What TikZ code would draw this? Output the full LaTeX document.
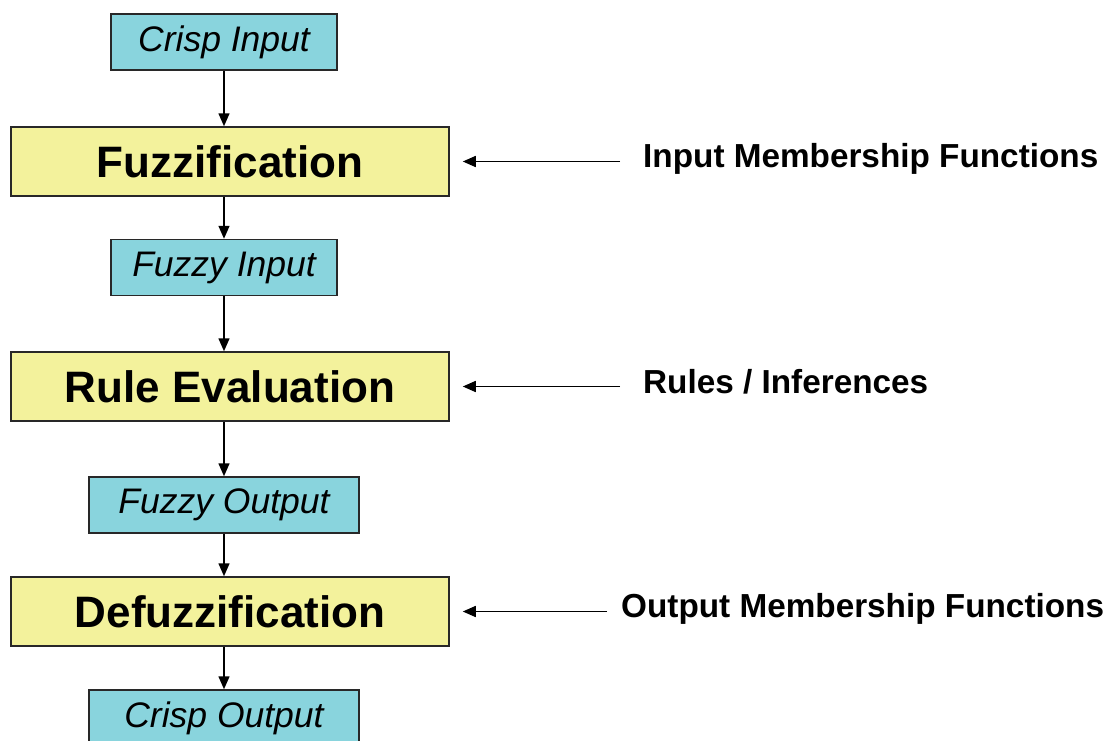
\documentclass[tikz,border=0pt]{standalone}
\usepackage{fontspec}
\setmainfont{Liberation Sans}
\usetikzlibrary{arrows.meta}
\definecolor{boxcyan}{RGB}{137,212,221}
\definecolor{boxyellow}{RGB}{243,242,156}
\definecolor{edgegray}{RGB}{40,40,40}
\tikzset{
  databox/.style={draw=edgegray, line width=1.5pt, fill=boxcyan, minimum height=56pt, inner sep=0pt,
    font=\fontsize{35.5}{40}\selectfont\itshape},
  stagebox/.style={draw=edgegray, line width=1.5pt, fill=boxyellow, minimum width=438pt, minimum height=69pt, inner sep=0pt,
    font=\fontsize{44}{50}\selectfont\bfseries},
  sidelabel/.style={anchor=base west, inner sep=0pt, font=\fontsize{33.3}{38}\selectfont\bfseries},
  flow/.style={line width=1.5pt, -{Triangle[length=13pt,width=11pt]}},
}
\begin{document}
\begin{tikzpicture}[x=1pt,y=-1pt]
\useasboundingbox (0,0) rectangle (1112,740);
\clip (0,0) rectangle (1112,740);
\node[databox, minimum width=226pt] (ci) at (224,42) {Crisp Input};
\node[stagebox] (fz) at (230,161.5) {Fuzzification};
\node[databox, minimum width=226pt] (fi) at (224,267.5) {Fuzzy Input};
\node[stagebox] (re) at (230,386.5) {Rule Evaluation};
\node[databox, minimum width=270pt] (fo) at (224,505) {Fuzzy Output};
\node[stagebox] (df) at (230,611.5) {Defuzzification};
\node[databox, minimum width=270pt] (co) at (224,718) {Crisp Output};

\node[sidelabel] (l1) at (643,167) {Input Membership Functions};
\node[sidelabel] (l2) at (643,393) {Rules / Inferences};
\node[sidelabel] (l3) at (621,617) {Output Membership Functions};

\coordinate (s1) at (620,161.5);
\coordinate (s2) at (620,386.5);
\coordinate (s3) at (607,611.5);

\draw[flow] (ci.south -| 224,0) -- (fz.north -| 224,0);
\draw[flow] (fz.south -| 224,0) -- (fi.north -| 224,0);
\draw[flow] (fi.south -| 224,0) -- (re.north -| 224,0);
\draw[flow] (re.south -| 224,0) -- (fo.north -| 224,0);
\draw[flow] (fo.south -| 224,0) -- (df.north -| 224,0);
\draw[flow] (df.south -| 224,0) -- (co.north -| 224,0);

\draw[flow] (s1) -- ([xshift=13pt]fz.east);
\draw[flow] (s2) -- ([xshift=13pt]re.east);
\draw[flow] (s3) -- ([xshift=13pt]df.east);
\end{tikzpicture}
\end{document}
